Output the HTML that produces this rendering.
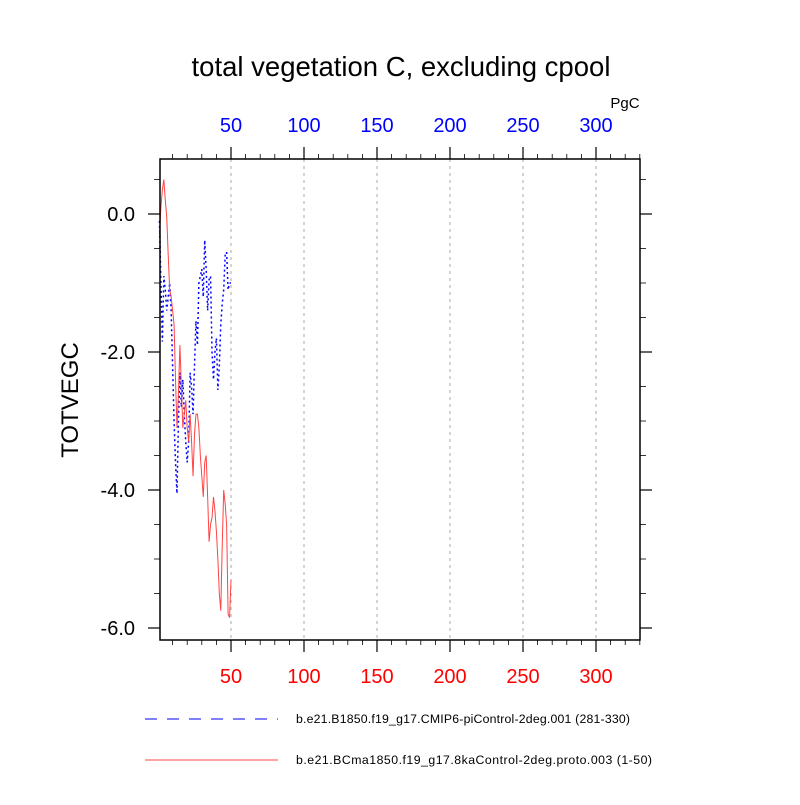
<!DOCTYPE html>
<html><head><meta charset="utf-8"><style>
body{margin:0;background:#fff}
svg text{font-family:"Liberation Sans",sans-serif}
</style></head><body>
<svg id="c" width="800" height="800" xmlns="http://www.w3.org/2000/svg"></svg>
<script>
const xTicks=[50,100,150,200,250,300];
const yTicks=[0,-2,-4,-6];
const yLabels=["0.0","-2.0","-4.0","-6.0"];
const seriesBlue=[-0.1,-1.0,-1.85,-0.9,-1.1,-1.4,-1.2,-1.0,-1.4,-2.2,-3.0,-3.6,-4.05,-3.0,-2.3,-2.8,-2.4,-2.9,-3.3,-3.6,-3.3,-2.3,-2.5,-2.9,-2.2,-1.55,-1.9,-1.0,-0.9,-0.8,-1.2,-0.38,-0.8,-1.4,-0.95,-0.9,-2.0,-2.4,-2.0,-1.8,-2.55,-2.2,-1.6,-1.3,-1.1,-0.6,-0.55,-1.1,-1.0,-1.0];
const seriesRed=[-0.3,0.1,0.35,0.5,0.2,-0.05,-0.6,-1.1,-1.2,-1.4,-1.6,-2.4,-3.1,-2.6,-1.9,-2.5,-3.1,-2.9,-2.7,-3.1,-3.3,-2.9,-3.3,-3.8,-3.2,-2.9,-2.9,-3.1,-3.5,-3.8,-4.1,-3.6,-3.5,-4.1,-4.75,-4.5,-4.4,-4.1,-4.3,-4.6,-5.0,-5.5,-5.75,-4.8,-4.0,-4.2,-4.5,-5.8,-5.85,-5.3];
const L=160,R=640,T=159,B=640;
const X=v=>158+v*1.46;
const Y=v=>214-v*69;
const svg=document.getElementById('c');
const NS='http://www.w3.org/2000/svg';
function mk(t,a,txt){const e=document.createElementNS(NS,t);for(const k in a)e.setAttribute(k,a[k]);if(txt!==undefined)e.textContent=txt;svg.appendChild(e);return e;}
let e;
e=mk('text',{x:401,y:76,'text-anchor':'middle','font-size':27.5},'total vegetation C, excluding cpool');


e=mk('text',{x:625,y:108,'text-anchor':'middle','font-size':15},'PgC');


e=mk('text',{x:78,y:400,'text-anchor':'middle','font-size':24,transform:'rotate(-90 78 400)'},'TOTVEGC');


xTicks.forEach(v=>{e=mk('line',{x1:X(v),x2:X(v),y1:T,y2:B,stroke:'#aaa','stroke-dasharray':'3,4'});

});
for(let v=10;v<=330;v+=10){const maj=v%50==0;const len=maj?12:5;
e=mk('line',{x1:X(v),x2:X(v),y1:T,y2:T-len,stroke:'#000','stroke-width':maj?1.2:0.8});


e=mk('line',{x1:X(v),x2:X(v),y1:B,y2:B+len,stroke:'#000','stroke-width':maj?1.2:0.8});

}
for(let v=0.5;v>=-6;v-=0.5){const maj=Math.abs(v%2)<1e-6;const len=maj?12:6;
e=mk('line',{x1:L,x2:L-len,y1:Y(v),y2:Y(v),stroke:'#000','stroke-width':maj?1.2:0.8});


e=mk('line',{x1:R,x2:R+len,y1:Y(v),y2:Y(v),stroke:'#000','stroke-width':maj?1.2:0.8});

}
xTicks.forEach(v=>{
e=mk('text',{x:X(v),y:132,'text-anchor':'middle','font-size':20,fill:'#00f'},String(v));


e=mk('text',{x:X(v),y:683,'text-anchor':'middle','font-size':20,fill:'#f00'},String(v));

});
yTicks.forEach((v,i)=>{e=mk('text',{x:135,y:Y(v)+7,'text-anchor':'end','font-size':20},yLabels[i]);

});
const pb=seriesBlue.map((v,i)=>X(i+1)+','+Y(v)).join(' ');
e=mk('polyline',{points:pb,fill:'none',stroke:'#00f','stroke-width':1.5,'stroke-dasharray':'2,3'});


const pr=seriesRed.map((v,i)=>X(i+1)+','+Y(v)).join(' ');
e=mk('polyline',{points:pr,fill:'none',stroke:'#f44','stroke-width':1});


e=mk('rect',{x:L,y:T,width:R-L,height:B-T,fill:'none',stroke:'#000','stroke-width':1.5});


e=mk('line',{x1:145,x2:278,y1:719,y2:719,stroke:'#00f','stroke-dasharray':'12,10'});


e=mk('text',{x:296,y:723,'font-size':12.3,textLength:334},'b.e21.B1850.f19_g17.CMIP6-piControl-2deg.001 (281-330)');


e=mk('line',{x1:145,x2:278,y1:760,y2:760,stroke:'#f44'});


e=mk('text',{x:296,y:764,'font-size':12.3,textLength:356},'b.e21.BCma1850.f19_g17.8kaControl-2deg.proto.003 (1-50)');


</script>
</body></html>
